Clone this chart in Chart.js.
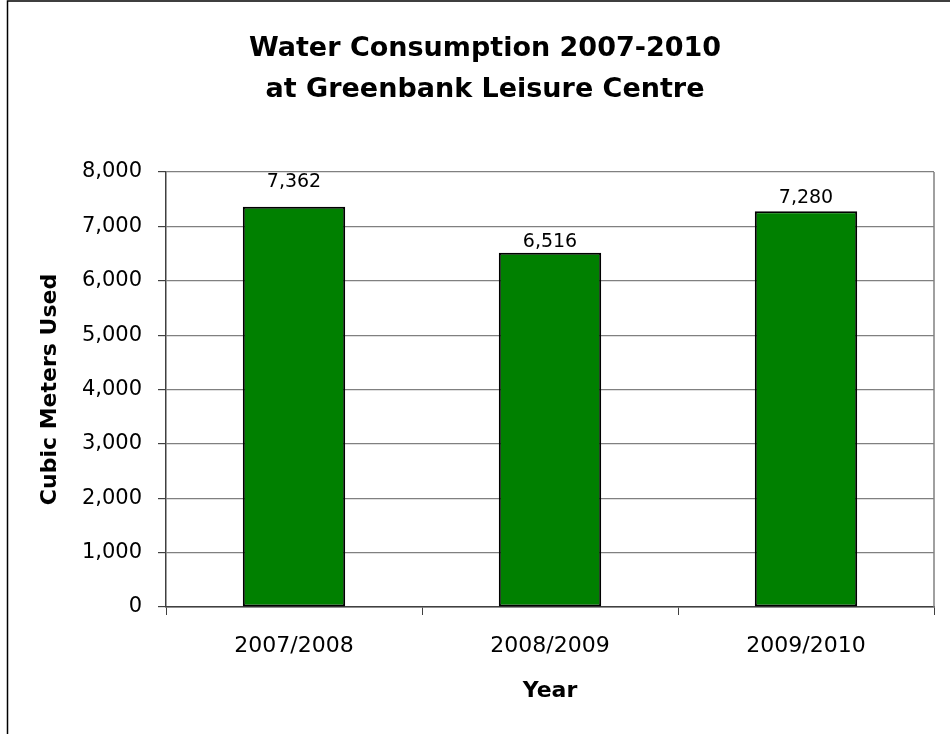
<!DOCTYPE html>
<html>
<head>
<meta charset="utf-8">
<script src="https://cdn.jsdelivr.net/npm/chart.js@4"></script>
<style>
html,body{margin:0;padding:0;background:#fff;}
#wrap{width:950px;height:734px;}
</style>
</head>
<body>
<div id="wrap"><canvas id="c" width="950" height="734"></canvas></div>
<script>
const categories = ['2007/2008', '2008/2009', '2009/2010'];
const consumption = [7362, 6516, 7280];
const titleLines = ['Water Consumption 2007-2010', 'at Greenbank Leisure Centre'];
const yAxisTitle = 'Cubic Meters Used';
const xAxisTitle = 'Year';
const yMin = 0, yMax = 8000, yStep = 1000;

const FONT = "'DejaVu Sans', 'Liberation Sans', Arial, sans-serif";

const framePlugin = {
  id: 'frame',
  beforeDraw(chart) {
    const ctx = chart.ctx;
    ctx.save();
    ctx.fillStyle = '#fff';
    ctx.fillRect(0, 0, chart.width, chart.height);
    ctx.strokeStyle = '#000';
    ctx.lineWidth = 1.5;
    ctx.beginPath();
    ctx.moveTo(7.5, chart.height);
    ctx.lineTo(7.5, 1);
    ctx.lineTo(chart.width, 1);
    ctx.stroke();
    ctx.restore();
  }
};

const plotBorderPlugin = {
  id: 'plotBorder',
  beforeDatasetsDraw(chart) {
    const {ctx, chartArea} = chart;
    ctx.save();
    ctx.strokeStyle = '#808080';
    ctx.lineWidth = 1.5;
    ctx.beginPath();
    ctx.moveTo(chartArea.right, chartArea.top);
    ctx.lineTo(chartArea.right, chartArea.bottom);
    ctx.stroke();
    ctx.restore();
  }
};

const valueLabelPlugin = {
  id: 'valueLabels',
  afterDatasetsDraw(chart, args, opts) {
    const ctx = chart.ctx;
    const meta = chart.getDatasetMeta(0);
    const ds = chart.data.datasets[0];
    ctx.save();
    ctx.fillStyle = '#000';
    ctx.font = '19px ' + FONT;
    ctx.textAlign = 'center';
    ctx.textBaseline = 'middle';
    meta.data.forEach((el, i) => {
      const off = (opts.offsets && opts.offsets[i] != null) ? opts.offsets[i] : 13;
      ctx.fillText(ds.data[i].toLocaleString('en-US'), el.x, el.y - off);
    });
    ctx.restore();
  }
};

new Chart(document.getElementById('c'), {
  type: 'bar',
  data: {
    labels: categories,
    datasets: [{
      data: consumption,
      backgroundColor: '#008000',
      borderColor: '#000',
      borderWidth: 2,
      borderSkipped: false,
      categoryPercentage: 1.0,
      barPercentage: 0.4
    }]
  },
  options: {
    responsive: false,
    animation: false,
    events: [],
    layout: { padding: { left: 36, right: 16, top: 0, bottom: 20 } },
    plugins: {
      legend: { display: false },
      tooltip: { enabled: false },
      title: {
        display: true,
        text: titleLines,
        color: '#000',
        font: { family: FONT, size: 27, weight: 'bold', lineHeight: 41 / 27 },
        padding: { top: 28.5, bottom: 61.5 }
      },
      valueLabels: { offsets: [25, 11, 13] }
    },
    scales: {
      x: {
        offset: true,
        grid: { display: true, offset: true, drawOnChartArea: false, tickLength: 8, color: '#404040', tickColor: '#404040' },
        border: { display: true, color: '#404040', width: 1.5 },
        ticks: { color: '#000', font: { family: FONT, size: 22 }, padding: 18, maxRotation: 0 },
        title: { display: true, text: xAxisTitle, color: '#000', font: { family: FONT, size: 22, weight: 'bold' }, padding: { top: 0, bottom: 10 } },
        afterFit(s) { s.height = 107; }
      },
      y: {
        min: yMin,
        max: yMax,
        ticks: {
          stepSize: yStep,
          padding: 16,
          color: '#000',
          font: { family: FONT, size: 21 },
          callback: v => Number(v).toLocaleString('en-US')
        },
        grid: { color: '#808080', lineWidth: 1.2, tickLength: 8, tickColor: '#404040' },
        border: { display: true, color: '#404040', width: 1.5 },
        title: { display: true, text: yAxisTitle, color: '#000', font: { family: FONT, size: 22, weight: 'bold' }, padding: { top: 1, bottom: 0 } },
        afterFit(s) { s.width = 130; }
      }
    }
  },
  plugins: [framePlugin, plotBorderPlugin, valueLabelPlugin]
});
</script>
</body>
</html>
